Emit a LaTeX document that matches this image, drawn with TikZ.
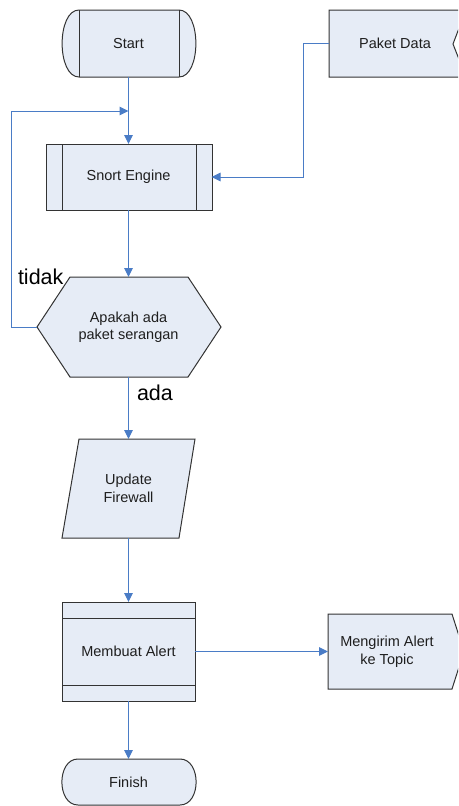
\documentclass[tikz,border=0pt]{standalone}
\usepackage{fontspec}
\setmainfont{Liberation Sans}
\usetikzlibrary{arrows.meta}
\definecolor{shfill}{HTML}{E6ECF6}
\definecolor{shline}{HTML}{333333}
\definecolor{conn}{HTML}{4A7CC6}
\definecolor{txt}{HTML}{1E1E1E}
\begin{document}
\begin{tikzpicture}[x=1pt,y=-1pt,
  shp/.style={draw=shline,fill=shfill,line width=1pt,line join=miter},
  inner/.style={draw=shline,line width=1pt},
  box/.style={draw=none,inner sep=0pt,outer sep=0pt,align=center,text=txt,
    font=\fontsize{14.5}{17.5}\selectfont},
  lbl/.style={inner sep=0pt,outer sep=0pt,text=black,font=\fontsize{21.5}{24}\selectfont},
  arr/.style={draw=conn,line width=1pt,-{Triangle[length=9pt,width=8.5pt]}}]
\useasboundingbox (0,0) rectangle (458,806);
\clip (0,0) rectangle (458,806);

% ---- shapes ----
% Start (terminal with side bars)
\draw[shp] (79,10) -- (179,10) .. controls (201.5,10) and (201.5,77) .. (179,77)
  -- (79,77) .. controls (56.5,77) and (56.5,10) .. (79,10) -- cycle;
\draw[inner] (79,10) -- (79,77) (179,10) -- (179,77);
% Paket Data
\draw[shp] (329,10) -- (466,10) -- (453,44) -- (466,77) -- (329,77) -- cycle;
\draw[shline,line width=1pt] (466,10) -- (480,10) (466,77) -- (480,77);
% Snort Engine
\draw[shp] (46,144) rectangle (212,210);
\draw[inner] (62,144) -- (62,210) (196,144) -- (196,210);
% Decision hexagon
\draw[shp] (70,277) -- (188,277) -- (221,327) -- (188,377) -- (70,377) -- (37,327) -- cycle;
% Update Firewall parallelogram
\draw[shp] (79,439) -- (195,439) -- (179,538) -- (62,538) -- cycle;
% Membuat Alert
\draw[shp] (62,602) rectangle (195,701);
\draw[inner] (62,618) -- (195,618) (62,685) -- (195,685);
% Mengirim Alert ke Topic
\draw[shp] (328,614) -- (452,614) -- (464,651.5) -- (452,689) -- (328,689) -- cycle;
% Finish
\draw[shp] (78,759) -- (180,759) .. controls (201.5,759) and (201.5,805) .. (180,805)
  -- (78,805) .. controls (56.5,805) and (56.5,759) .. (78,759) -- cycle;

% ---- nodes ----
\node[box,minimum width=133pt,minimum height=67pt] (start) at (128.5,43.5) {Start};
\node[box,minimum width=132pt,minimum height=67pt] (paket) at (395,43.5) {Paket Data};
\node[box,minimum width=166pt,minimum height=66pt] (snort) at (128.5,177) {Snort Engine};
\node[box,minimum width=184pt,minimum height=100pt] (hex) at (128.5,327) {Apakah ada\\paket serangan};
\node[box,minimum width=133pt,minimum height=99pt] (upd) at (128.5,488.5) {Update\\Firewall};
\node[box,minimum width=133pt,minimum height=99pt] (mem) at (128.5,651.5) {Membuat Alert};
\node[box,minimum width=118pt,minimum height=75pt] (kirim) at (387,651.5) {Mengirim Alert\\ke Topic};
\node[box,minimum width=134pt,minimum height=46pt] (fin) at (128.5,782) {Finish};
\coordinate (loopjoin) at (128.5,111);

\node[lbl,anchor=base west] (tidak) at (18,284) {tidak};
\node[lbl,anchor=base west] (ada) at (137,400) {ada};

% ---- connectors ----
\draw[arr] (start.south) -- (snort.north);
\draw[arr] (hex.west) -- ++(-25,0) |- (loopjoin);
\draw[arr] (paket.west) -- ++(-26,0) |- (snort.east);
\draw[arr] (snort.south) -- (hex.north);
\draw[arr] (hex.south) -- (upd.north);
\draw[arr] (upd.south) -- (mem.north);
\draw[arr] (mem.east) -- (kirim.west);
\draw[arr] (mem.south) -- (fin.north);
\end{tikzpicture}
\end{document}
